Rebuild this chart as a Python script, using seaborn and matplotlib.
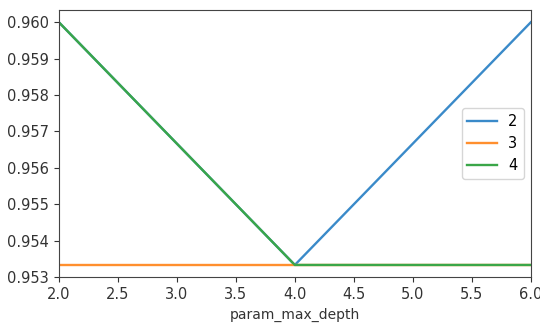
import matplotlib
matplotlib.use('Agg')
import pandas as pd
import matplotlib.pyplot as plt
import seaborn as sns

# grid search scores, one line per min_samples value
max_depth = [2, 4, 6]
series_names = ['2', '3', '4']
scores_2 = [0.96, 0.953333, 0.96]
scores_3 = [0.953333, 0.953333, 0.953333]
scores_4 = [0.96, 0.953333, 0.953333]

df = pd.DataFrame({
    'param_max_depth': max_depth * 3,
    'score': scores_2 + scores_3 + scores_4,
    'series': [s for s in series_names for _ in max_depth],
})

fig = plt.figure(figsize=(5.4, 3.26), dpi=100)
ax = fig.add_axes([0.109, 0.150, 0.874, 0.819])
sns.lineplot(data=df, x='param_max_depth', y='score', hue='series',
             palette=['#3a8ac9', '#ff8f2e', '#3aa648'], linewidth=1.7, ax=ax)
ax.set_xlim(2, 6)
ax.set_ylabel('')
ax.set_xlabel('param_max_depth', fontsize=10, color='#333333')
ax.tick_params(labelsize=10.5, colors='#333333')
for sp in ax.spines.values():
    sp.set_color('#444444')
ax.legend(loc='center right', fontsize=10.5)
fig.savefig('out.png', dpi=100)
